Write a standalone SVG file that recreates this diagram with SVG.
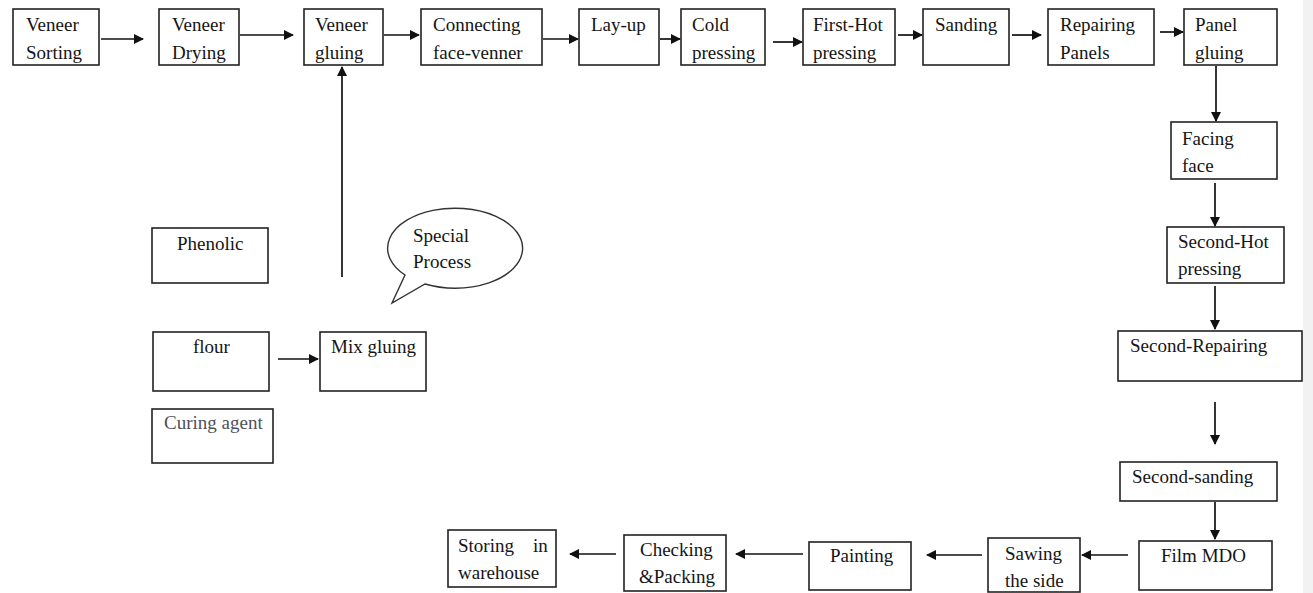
<svg xmlns="http://www.w3.org/2000/svg" width="1313" height="593" viewBox="0 0 1313 593">
<style>
.b{fill:#fff;stroke:#222;stroke-width:1.6}
.t{font-family:"Liberation Serif","Times New Roman",serif;font-size:19px;fill:#151515}
.g{fill:#50505a}
.c{stroke:#111;stroke-width:1.7;fill:none;marker-end:url(#ah)}
</style>
<defs>
<marker id="ah" viewBox="0 0 10 10" refX="9" refY="5" markerWidth="11" markerHeight="10" markerUnits="userSpaceOnUse" orient="auto">
<path d="M0,0 L10,5 L0,10 z" fill="#111"/>
</marker>
</defs>
<rect x="0" y="0" width="1313" height="593" fill="#fff"/>
<rect x="1303" y="0" width="10" height="593" fill="#f2f2f2"/>
<g id="connectors">
<line class="c" x1="101" y1="39" x2="143" y2="39"/>
<line class="c" x1="240" y1="35" x2="293" y2="35"/>
<line class="c" x1="384" y1="35" x2="419" y2="35"/>
<line class="c" x1="543" y1="39" x2="578" y2="39"/>
<line class="c" x1="660" y1="39" x2="680" y2="39"/>
<line class="c" x1="773" y1="42" x2="802" y2="42"/>
<line class="c" x1="898" y1="35" x2="922" y2="35"/>
<line class="c" x1="1012" y1="35" x2="1041" y2="35"/>
<line class="c" x1="1160" y1="32" x2="1183" y2="32"/>
<line class="c" x1="1216" y1="66" x2="1216" y2="121"/>
<line class="c" x1="1215" y1="183" x2="1215" y2="226"/>
<line class="c" x1="1215" y1="286" x2="1215" y2="329"/>
<line class="c" x1="1215" y1="402" x2="1215" y2="444"/>
<line class="c" x1="1215" y1="502" x2="1215" y2="539"/>
<line class="c" x1="1128" y1="555" x2="1082" y2="555"/>
<line class="c" x1="982" y1="555" x2="927" y2="555"/>
<line class="c" x1="803" y1="554" x2="736" y2="554"/>
<line class="c" x1="616" y1="554" x2="570" y2="554"/>
<line class="c" x1="278" y1="359" x2="318" y2="359"/>
<line class="c" x1="342" y1="277" x2="342" y2="67"/>
</g>
<g id="veneer-sorting"><rect class="b" x="13" y="9" width="86" height="56"/><text class="t" x="26" y="31">Veneer</text><text class="t" x="26" y="59">Sorting</text></g>
<g id="veneer-drying"><rect class="b" x="159" y="9" width="80" height="56"/><text class="t" x="172" y="31">Veneer</text><text class="t" x="172" y="59">Drying</text></g>
<g id="veneer-gluing"><rect class="b" x="304" y="9" width="79" height="56"/><text class="t" x="315" y="31">Veneer</text><text class="t" x="315" y="59">gluing</text></g>
<g id="connecting"><rect class="b" x="421" y="9" width="121" height="56"/><text class="t" x="433" y="31">Connecting</text><text class="t" x="433" y="59">face-venner</text></g>
<g id="lay-up"><rect class="b" x="579" y="9" width="80" height="56"/><text class="t" x="591" y="31">Lay-up</text></g>
<g id="cold-pressing"><rect class="b" x="681" y="9" width="84" height="56"/><text class="t" x="692" y="31">Cold</text><text class="t" x="692" y="59">pressing</text></g>
<g id="first-hot"><rect class="b" x="803" y="9" width="92" height="56"/><text class="t" x="813" y="31">First-Hot</text><text class="t" x="813" y="59">pressing</text></g>
<g id="sanding"><rect class="b" x="923" y="9" width="86" height="56"/><text class="t" x="935" y="31">Sanding</text></g>
<g id="repairing"><rect class="b" x="1048" y="9" width="106" height="56"/><text class="t" x="1060" y="31">Repairing</text><text class="t" x="1060" y="59">Panels</text></g>
<g id="panel-gluing"><rect class="b" x="1184" y="9" width="93" height="56"/><text class="t" x="1195" y="31">Panel</text><text class="t" x="1195" y="59">gluing</text></g>
<g id="facing-face"><rect class="b" x="1171" y="122" width="106" height="57"/><text class="t" x="1182" y="145">Facing</text><text class="t" x="1182" y="172">face</text></g>
<g id="second-hot"><rect class="b" x="1167" y="227" width="117" height="56"/><text class="t" x="1178" y="248">Second-Hot</text><text class="t" x="1178" y="275">pressing</text></g>
<g id="second-repairing"><rect class="b" x="1118" y="331" width="184" height="50"/><text class="t" x="1130" y="352">Second-Repairing</text></g>
<g id="second-sanding"><rect class="b" x="1120" y="462" width="157" height="39"/><text class="t" x="1132" y="483">Second-sanding</text></g>
<g id="film-mdo"><rect class="b" x="1139" y="541" width="133" height="49"/><text class="t" x="1161" y="562">Film MDO</text></g>
<g id="sawing"><rect class="b" x="988" y="538" width="92" height="54"/><text class="t" x="1005" y="560">Sawing</text><text class="t" x="1005" y="587">the side</text></g>
<g id="painting"><rect class="b" x="809" y="542" width="102" height="48"/><text class="t" x="830" y="562">Painting</text></g>
<g id="checking"><rect class="b" x="624" y="535" width="102" height="56"/><text class="t" x="640" y="556">Checking</text><text class="t" x="639" y="583">&amp;Packing</text></g>
<g id="storing"><rect class="b" x="448" y="530" width="108" height="57"/><text class="t" x="458" y="552">Storing</text><text class="t" x="533" y="552">in</text><text class="t" x="458" y="579">warehouse</text></g>
<g id="phenolic"><rect class="b" x="152" y="228" width="116" height="55"/><text class="t" x="177" y="250">Phenolic</text></g>
<g id="flour"><rect class="b" x="153" y="332" width="116" height="59"/><text class="t" x="193" y="353">flour</text></g>
<g id="mix-gluing"><rect class="b" x="320" y="332" width="106" height="59"/><text class="t" x="331" y="353">Mix gluing</text></g>
<g id="curing-agent"><rect class="b" x="152" y="409" width="121" height="54"/><text class="t g" x="164" y="429">Curing agent</text></g>
<g id="special-process">
<path d="M405,275 A67.5,40 0 1 1 425,284 L392,303 Z" fill="#fff" stroke="#333" stroke-width="1.4" stroke-linejoin="miter"/>
<text class="t" x="413" y="242">Special</text><text class="t" x="413" y="268">Process</text>
</g>
</svg>
